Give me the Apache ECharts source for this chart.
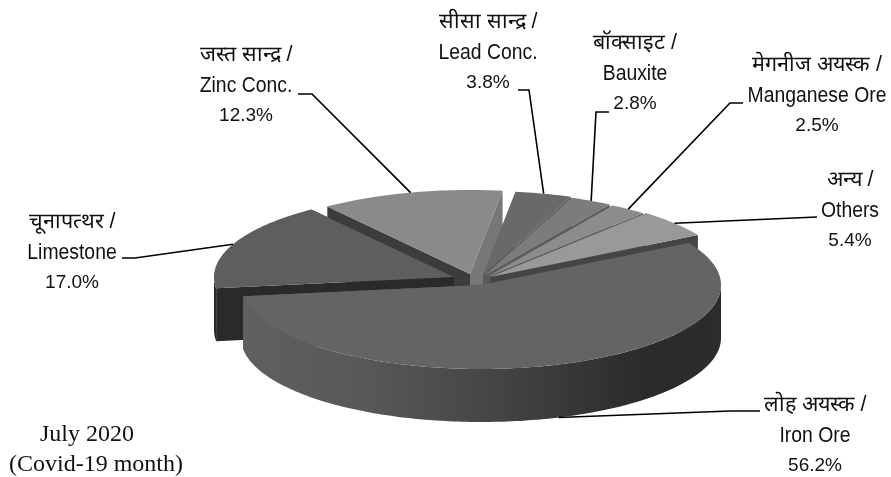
<!DOCTYPE html>
<html>
<head>
<meta charset="utf-8">
<style>
  html, body { margin: 0; padding: 0; background: #fff; }
  #chart { width: 891px; height: 477px; }
</style>
<script src="https://cdn.jsdelivr.net/npm/echarts@6/dist/echarts.min.js"></script>
</head>
<body>
<div id="chart"></div>
<script>
// data, starting at iron ore and going clockwise
const names = ['Iron Ore', 'Limestone', 'Zinc Conc.', 'Lead Conc.', 'Bauxite', 'Manganese Ore', 'Others'];
const hindi = ['लोह अयस्क /', 'चूनापत्थर /', 'जस्त सान्द्र /', 'सीसा सान्द्र /', 'बॉक्साइट /', 'मेगनीज अयस्क /', 'अन्य /'];
const shares = [56.2, 17.0, 12.3, 3.8, 2.8, 2.5, 5.4];

// slices are painted back to front
const drawOrder = [2, 3, 4, 5, 6, 1, 0];

// fake 3d: each slice is an exploded ellipse wedge
const RX = 240, RY = 84, DEPTH = 53, START_DEG = -30;
const centers = [[481, 285], [454, 277], [470, 274], [483, 275], [484, 276], [487, 277], [490, 277]];
const topColors = ['#646464', '#5e5e5e', '#8a8a8a', '#696969', '#7c7c7c', '#8c8c8c', '#999999'];
const startFaceColors = ['#555555', '#2a2a2a', '#3c3c3c', '#5a5a5a', '#5a5a5a', '#5a5a5a', '#454545'];
const endFaceColors = ['#555555', '#2a2a2a', '#777777', '#5a5a5a', '#5a5a5a', '#5a5a5a', '#454545'];

// label centre x, y of the first line, then the leader's text end and elbow
const labelPos = [[815, 405], [72, 222], [246, 55], [488, 22], [635, 43], [817, 65], [850, 180]];
const leaderPos = [
  [[760, 411], [730, 411]],
  [[122, 258], [135, 258]],
  [[298, 94], [312, 94]],
  [[518, 90], [529, 90]],
  [[609, 112], [596, 112]],
  [[743, 103], [730, 103]],
  [[817, 217], [817, 217]]
];
const LINE_GAP = 30.5;
const SANS = '"Liberation Sans", Arimo, sans-serif';

const total = shares.reduce((a, b) => a + b, 0);
let acc = 0;
const angles = shares.map(v => {
  const from = echarts.number.linearMap(acc, [0, total], [START_DEG, START_DEG + 360]);
  acc += v;
  return [from, echarts.number.linearMap(acc, [0, total], [START_DEG, START_DEG + 360])];
});

function rim(i, deg, dy) {
  const t = deg * Math.PI / 180;
  return [centers[i][0] + RX * Math.cos(t), centers[i][1] + RY * Math.sin(t) + (dy || 0)];
}
function arc(i, a, b, dy) {
  const pts = [];
  const n = Math.max(2, Math.ceil(Math.abs(b - a)));
  for (let k = 0; k <= n; k++) pts.push(rim(i, a + (b - a) * k / n, dy));
  return pts;
}
function poly(points, fill) {
  return { type: 'polygon', shape: { points: points }, style: { fill: fill, stroke: null }, silent: true };
}
function label(x, y, s, font, sx) {
  return {
    type: 'text',
    silent: true,
    x: x,
    y: y,
    scaleX: sx,
    style: { x: 0, y: 0, text: s, fill: '#111', font: font, align: 'center', verticalAlign: 'middle' }
  };
}

const wallFill = new echarts.graphic.LinearGradient(0, 0, 1, 0, [
  { offset: 0, color: '#606060' },
  { offset: 0.25, color: '#585858' },
  { offset: 0.5, color: '#474747' },
  { offset: 0.68, color: '#383838' },
  { offset: 0.85, color: '#2a2a2a' },
  { offset: 1, color: '#2c2c2c' }
]);

function renderSlice(params) {
  const i = drawOrder[params.dataIndex];
  const c = centers[i];
  const [a, b] = angles[i];
  const low = [c[0], c[1] + DEPTH];
  const kids = [];

  // the two cut faces
  kids.push(poly([c, rim(i, a), rim(i, a, DEPTH), low], startFaceColors[i]));
  kids.push(poly([c, rim(i, b), rim(i, b, DEPTH), low], endFaceColors[i]));

  // outer wall only on the front half of the ellipse
  const wa = Math.max(a, 0), wb = Math.min(b, 180);
  if (wb > wa) {
    const wall = arc(i, wa, wb, 0).concat(arc(i, wb, wa, DEPTH));
    kids.push(poly(wall, i === 0 ? wallFill : startFaceColors[i]));
  }

  // top
  kids.push(poly([c].concat(arc(i, a, b, 0)), topColors[i]));

  // leader from the rim at the middle of the slice
  const mid = (a + b) / 2;
  const front = Math.sin(mid * Math.PI / 180) > 0;
  const anchor = rim(i, mid, front ? DEPTH : 0);
  kids.push({
    type: 'polyline',
    shape: { points: [leaderPos[i][0], leaderPos[i][1], anchor] },
    style: { stroke: '#000', lineWidth: 1.6, fill: null },
    silent: true
  });

  // three line label
  const [lx, ly] = labelPos[i];
  kids.push(label(lx, ly, hindi[i], '21.5px ' + SANS, 1));
  kids.push(label(lx, ly + LINE_GAP, names[i], '22px ' + SANS, 0.88));
  kids.push(label(lx, ly + 2 * LINE_GAP, shares[i].toFixed(1) + '%', '19px ' + SANS, 1));
  return { type: 'group', children: kids };
}

const chart = echarts.init(document.getElementById('chart'), null, { renderer: 'canvas' });
chart.setOption({
  animation: false,
  backgroundColor: '#fff',
  tooltip: { show: false },
  series: [{
    type: 'custom',
    coordinateSystem: 'none',
    data: drawOrder.map(i => shares[i]),
    renderItem: renderSlice,
    silent: true
  }],
  graphic: [
    { type: 'text', silent: true, style: { x: 87, y: 435, text: 'July 2020', fill: '#111', font: '24px "Liberation Serif", serif', align: 'center', verticalAlign: 'middle' } },
    { type: 'text', silent: true, style: { x: 96, y: 465, text: '(Covid-19 month)', fill: '#111', font: '24px "Liberation Serif", serif', align: 'center', verticalAlign: 'middle' } }
  ]
});
</script>
</body>
</html>
